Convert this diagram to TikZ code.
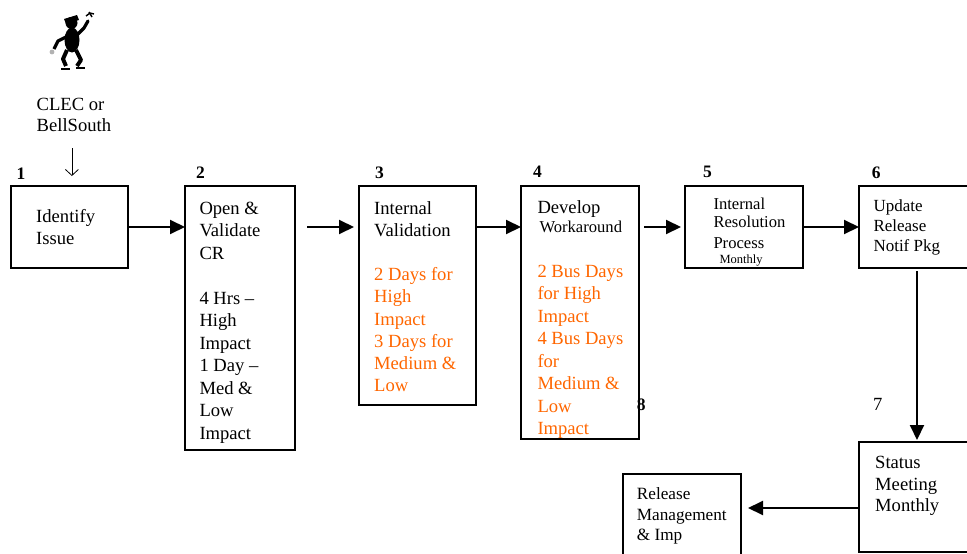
\documentclass[tikz,border=0pt]{standalone}
\usepackage{fontspec}
\setmainfont{Liberation Serif}
\usepackage{xcolor}
\usepackage{tikz}
\usetikzlibrary{arrows.meta}
\definecolor{impact}{RGB}{255,102,0}
\newcommand\mainsize{\fontsize{18.6}{22.3}\selectfont}
\newcommand\midsize{\fontsize{16.6}{19.5}\selectfont}
\newcommand\tinysize{\fontsize{12.5}{14}\selectfont}
\tikzset{
  box/.style={draw, line width=2pt, anchor=north west, outer sep=0pt, inner sep=0pt},
  txt/.style={anchor=north west, inner sep=0pt, align=left, font=\mainsize},
  num/.style={anchor=base west, inner sep=0pt, font=\fontsize{17.5}{20}\selectfont\bfseries},
  flow/.style={line width=2pt, -{Triangle[length=15pt,width=14pt]}},
  thinflow/.style={line width=0.8pt, -{Straight Barb[length=6pt,width=13pt]}}
}

\begin{document}
\begin{tikzpicture}[x=1pt,y=-1pt]
\useasboundingbox (0,0) rectangle (967,554);
\clip (0,0) rectangle (967,554);
% the little man
\fill (71.5,23) circle (6pt);
\fill (64,19) -- (77,15) -- (79,20) -- (66,24) -- cycle;
\fill (72,40) ellipse (7.5pt and 12.5pt);
\draw[line width=3.2pt, line cap=round, line join=round] (77,35) -- (84,28) -- (88,21);
\draw[line width=1.4pt] (86,16) -- (90,13) -- (94,14) (89,12) -- (92,17);
\draw[line width=3.2pt, line join=round] (66,37) -- (58,41) -- (54,49);
\fill[gray!60] (52,52) circle (2.4pt);
\draw[line width=4pt, line join=round] (67,50) -- (63,59) -- (66,66);
\draw[line width=2.5pt] (61,69) -- (70,69);
\draw[line width=4pt, line join=round] (76,50) -- (81,60) -- (77,66);
\draw[line width=2.5pt] (76,68) -- (85,68);
\node[txt, font=\fontsize{18.6}{21.3}\selectfont] (clec) at (36.5,95.3) {\strut CLEC or\\BellSouth};

% boxes
\node[box, minimum width=117pt, minimum height=82pt] (b1) at (11,186) {};
\node[box, minimum width=110pt, minimum height=264pt] (b2) at (185,186) {};
\node[box, minimum width=117pt, minimum height=219pt] (b3) at (359,186) {};
\node[box, minimum width=118pt, minimum height=253pt] (b4) at (521,186) {};
\node[box, minimum width=118pt, minimum height=82pt] (b5) at (685,186) {};
\node[box, minimum width=120pt, minimum height=82pt] (b6) at (859,186) {};
\node[box, minimum width=120pt, minimum height=110pt] (b7) at (859,442) {};
\node[box, minimum width=118pt, minimum height=100pt] (b8) at (623,474) {};

% numbers
\node[num] (n1) at ([shift={(5.5,-6.7)}]b1.north west) {1};
\node[num] (n2) at ([shift={(11,-7.7)}]b2.north west) {2};
\node[num] (n3) at ([shift={(16,-7.7)}]b3.north west) {3};
\node[num] (n4) at ([shift={(12,-8.7)}]b4.north west) {4};
\node[num] (n5) at ([shift={(18,-9)}]b5.north west) {5};
\node[num] (n6) at ([shift={(12.7,-8)}]b6.north west) {6};
\node[num, font=\mainsize] (n7) at ([shift={(14,-32)}]b7.north west) {7};
\node[num] (n8) at ([shift={(13.7,-64)}]b8.north west) {8};

% texts
\node[txt, font=\fontsize{18.6}{21.7}\selectfont] (t1) at ([shift={(25,21)}]b1.north west) {\strut Identify\\Issue};
\node[txt, font=\fontsize{18.6}{22.5}\selectfont] (t2) at ([shift={(14.3,12.2)}]b2.north west)
  {\strut Open \&\\Validate\\CR\\[22.5pt]4 Hrs --\\High\\Impact\\1 Day --\\Med \&\\Low\\Impact};
\node[txt] (t3) at ([shift={(15,12.3)}]b3.north west) {\strut Internal\\Validation};
\node[txt, text=impact] (o3) at ([shift={(15,78.6)}]b3.north west)
  {\strut 2 Days for\\High\\Impact\\3 Days for\\Medium \&\\Low};
\node[txt] (t4) at ([shift={(16.3,11.3)}]b4.north west) {\strut Develop\\[-2.7pt]\hspace*{2pt}\midsize Workaround};
\node[txt, text=impact, font=\fontsize{18.6}{22.5}\selectfont] (o4) at ([shift={(16.3,75.5)}]b4.north west)
  {\strut 2 Bus Days\\for High\\Impact\\4 Bus Days\\for\\Medium \&\\Low\\Impact};
\node[txt, font=\midsize] (t5) at ([shift={(28.3,9.2)}]b5.north west)
  {\strut Internal\\[-1.5pt]Resolution\\[1.5pt]Process\\[-4.1pt]\hspace*{6pt}\tinysize Monthly};
\node[txt, font=\fontsize{17}{20}\selectfont] (t6) at ([shift={(14.3,11.1)}]b6.north west) {\strut Update\\Release\\Notif Pkg};
\node[txt, font=\fontsize{18.6}{21.7}\selectfont] (t7) at ([shift={(16,11)}]b7.north west) {\strut Status\\Meeting\\Monthly};
\node[txt, font=\fontsize{17.2}{20.4}\selectfont] (t8) at ([shift={(13.7,11.2)}]b8.north west) {\strut Release\\Management\\\& Imp};

% connectors
\draw[thinflow, shorten <=16pt, shorten >=10pt] ([xshift=-2pt]clec.south) -- ([xshift=-2pt]clec.south |- b1.north);
\draw[flow] (b1.east) -- (b1.east -| b2.west);
\draw[flow, shorten <=12pt, shorten >=5pt] ([yshift=-41pt]b2.north east) -- ([yshift=-41pt]b3.north west);
\draw[flow] ([yshift=-41pt]b3.north east) -- ([yshift=-41pt]b4.north west);
\draw[flow, shorten <=5pt, shorten >=4pt] ([yshift=-41pt]b4.north east) -- ([yshift=-41pt]b5.north west);
\draw[flow] (b5.east) -- (b5.east -| b6.west);
\draw[flow, shorten <=3pt, shorten >=2pt] ([xshift=58pt]b6.south west) -- ([xshift=58pt]b6.south west |- b7.north);
\draw[flow, shorten >=7pt] ([yshift=-66pt]b7.north west) -- ([yshift=-66pt]b7.north west -| b8.east);
\end{tikzpicture}
\end{document}
